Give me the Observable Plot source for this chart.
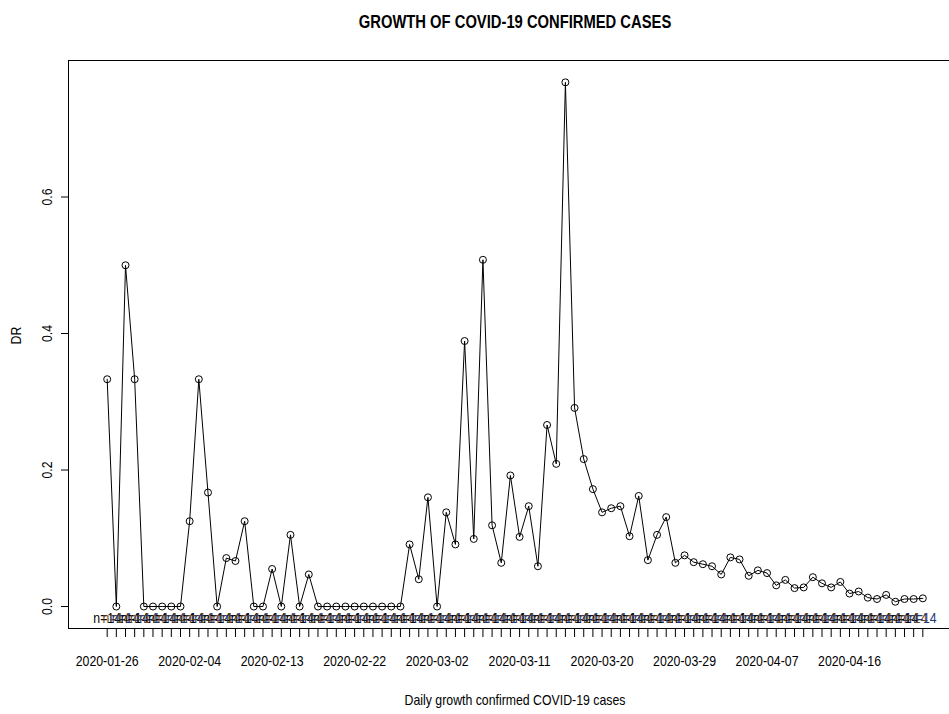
<!DOCTYPE html>
<html><head><meta charset="utf-8">
<script src="https://cdn.jsdelivr.net/npm/d3@7"></script>
<script src="https://cdn.jsdelivr.net/npm/@observablehq/plot@0.6"></script>
<style>html,body{margin:0;padding:0;background:#fff;overflow:hidden}</style>
</head><body><div id="chart"></div>
<script>
const startDate = "2020-01-26";
const dr = [
  0.333, 0, 0.5, 0.333, 0, 0, 0, 0, 0, 0.125,
  0.333, 0.167, 0, 0.071, 0.0667, 0.125, 0, 0, 0.055, 0,
  0.105, 0, 0.047, 0, 0, 0, 0, 0, 0, 0,
  0, 0, 0, 0.091, 0.040, 0.160, 0, 0.138, 0.091, 0.389,
  0.099, 0.508, 0.119, 0.064, 0.192, 0.102, 0.147, 0.059, 0.266, 0.209,
  0.768, 0.291, 0.216, 0.172, 0.138, 0.144, 0.147, 0.103, 0.162, 0.068,
  0.105, 0.131, 0.064, 0.075, 0.065, 0.062, 0.059, 0.047, 0.072, 0.069,
  0.045, 0.053, 0.049, 0.031, 0.039, 0.027, 0.028, 0.043, 0.034, 0.028,
  0.036, 0.019, 0.022, 0.013, 0.011, 0.017, 0.007, 0.011, 0.011, 0.012
];
const tickLabels = ["2020-01-26", "2020-02-04", "2020-02-13", "2020-02-22", "2020-03-02",
  "2020-03-11", "2020-03-20", "2020-03-29", "2020-04-07", "2020-04-16"];
const yTicks = [0, 0.2, 0.4, 0.6];
const countLabel = "n=14";
const bandColors = ["#000000", "#6e421c", "#1c3a78"];
const title = "GROWTH OF COVID-19 CONFIRMED CASES";
const xTitle = "Daily growth confirmed COVID-19 cases";
const yTitle = "DR";

const start = new Date(startDate + "T00:00:00Z");
const dates = dr.map((_, i) => d3.utcDay.offset(start, i));
const data = dr.map((v, i) => ({date: dates[i], dr: v, color: bandColors[i % bandColors.length]}));
const day = 864e5;
const font = "'Liberation Sans Narrow','Arial Narrow','Liberation Sans',Arial,sans-serif";

const plot = Plot.plot({
  width: 949, height: 714,
  marginTop: 60, marginBottom: 86, marginLeft: 68, marginRight: -12,
  style: {fontFamily: font, fontSize: "15px", background: "white", color: "black"},
  x: {type: "utc", domain: [new Date(+start - 4.22 * day), new Date(+dates[dates.length - 1] + 4.22 * day)]},
  y: {domain: [-0.0322, 0.8]},
  color: {type: "identity"},
  marks: [
    Plot.frame({stroke: "black"}),
    Plot.axisY(yTicks, {tickSize: 7, tickPadding: 10, tickRotate: -90, tickFormat: d3.format(".1f"), label: null, fontSize: 15}),
    Plot.axisX(dates, {tickSize: 9, tickFormat: () => "", label: null}),
    Plot.axisX(tickLabels.map(s => new Date(s + "T00:00:00Z")), {tickSize: 0, tickPadding: 27, tickFormat: (d, i) => tickLabels[i], label: null, fontSize: 15}),
    Plot.text(data, {x: "date", y: () => 0, text: () => countLabel, fill: "color", dy: 12, fontSize: 15}),
    Plot.line(data, {x: "date", y: "dr", stroke: "black", strokeWidth: 1}),
    Plot.dot(data, {x: "date", y: "dr", r: 3.5, stroke: "black", fill: "none", strokeWidth: 1}),
    Plot.text([title], {frameAnchor: "top", dy: -45, fontWeight: "bold", fontSize: 18}),
    Plot.text([xTitle], {frameAnchor: "bottom", dy: 76, fontSize: 15}),
    Plot.text([yTitle], {frameAnchor: "left", dx: -52, rotate: -90, fontSize: 15})
  ]
});
document.getElementById("chart").append(plot);
// Emulate the narrow (Arial Narrow-like) face of the original when no narrow face is installed
const ctx = document.createElement("canvas").getContext("2d");
ctx.font = "15px " + font;
const wStack = ctx.measureText("2020-01-26").width;
ctx.font = "15px 'Liberation Sans', Arial, sans-serif";
const wRegular = ctx.measureText("2020-01-26").width;
if (wStack / wRegular > 0.9) {
  plot.querySelectorAll("text").forEach(t => {
    const L = t.getComputedTextLength();
    if (L > 0) {
      t.setAttribute("textLength", (L * 0.82).toFixed(2));
      t.setAttribute("lengthAdjust", "spacingAndGlyphs");
    }
  });
}
</script>
</body></html>
